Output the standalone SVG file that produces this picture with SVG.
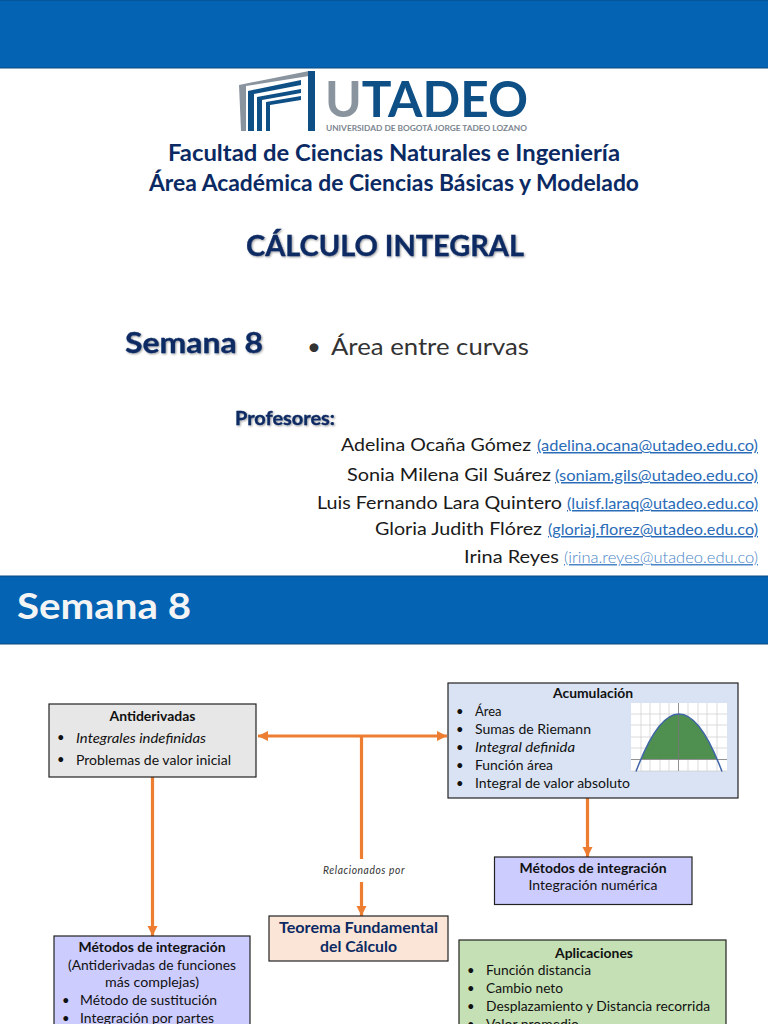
<svg xmlns="http://www.w3.org/2000/svg" width="768" height="1024" viewBox="0 0 768 1024">
<style>
text{font-family:Lato,"Open Sans","Liberation Sans",sans-serif;fill:#111}
.band{fill:#0563b4;stroke:#0b4a80;stroke-width:1}
.h1{font-size:22.5px;font-weight:700;fill:#0b2a63;text-anchor:middle}
.shadow{font-weight:700;fill:#0b2a63;stroke:#0b2a63;stroke-width:.3;filter:url(#soft)}
.name{font-size:18px;fill:#1a1a1a}
.mail{font-size:15px;fill:#2a6cb8;text-decoration:underline}
.box{stroke:#222;stroke-width:1.2}
.t{font-size:13px}
.b{font-size:13px;font-weight:700}
.c{text-anchor:middle}
.i{font-style:italic}
.con{fill:none;stroke:#ed7d31;stroke-width:3.2}
</style>
<defs>
<marker id="arr" markerUnits="userSpaceOnUse" markerWidth="12" markerHeight="12" refX="10" refY="5" orient="auto-start-reverse"><path d="M0 0L10 5L0 10Z" fill="#ed7d31"/></marker>
<filter id="soft" x="-5%" y="-20%" width="110%" height="140%"><feDropShadow dx="1" dy="1" stdDeviation="1" flood-color="#000" flood-opacity=".4"/></filter>
</defs>
<rect width="768" height="1024" fill="#fff"/>
<rect class="band" x="-1" y="0" width="770" height="68"/>
<g id="logo">
<path d="M239 85L309 71V76L246 86V131H241Z" fill="#8a949e"/>
<path d="M308 71H315V131H308Z" fill="#0e4f86"/>
<path d="M248 91L301 80V85L254 94V131H248Z" fill="#0e4f86"/>
<path d="M257 97L301 89V93L262 100V131H257Z" fill="#0e4f86"/>
<path d="M266 102L301 96V100L270 105V131H266Z" fill="#0e4f86"/>
<text x="325" y="117" font-size="49" font-weight="700" textLength="203" lengthAdjust="spacingAndGlyphs" style="fill:#0e4f86"><tspan style="fill:#8a949e">U</tspan>TADEO</text>
<text x="326" y="131" font-size="8" font-weight="700" textLength="201" lengthAdjust="spacingAndGlyphs" style="fill:#7b8590">UNIVERSIDAD DE BOGOTÁ JORGE TADEO LOZANO</text>
</g>
<text class="h1" x="394" y="161" textLength="452" lengthAdjust="spacingAndGlyphs">Facultad de Ciencias Naturales e Ingeniería</text>
<text class="h1" x="394" y="191" textLength="490" lengthAdjust="spacingAndGlyphs">Área Académica de Ciencias Básicas y Modelado</text>
<text class="shadow" x="246" y="256" font-size="28" textLength="278" lengthAdjust="spacingAndGlyphs">CÁLCULO INTEGRAL</text>
<text class="shadow" x="125" y="353" font-size="28" textLength="138" lengthAdjust="spacingAndGlyphs">Semana 8</text>
<text x="307" y="355" font-size="24" style="fill:#333">•</text>
<text x="331" y="355" font-size="24" style="fill:#333" textLength="198" lengthAdjust="spacingAndGlyphs">Área entre curvas</text>
<text class="shadow" x="235" y="425" font-size="18" textLength="100" lengthAdjust="spacingAndGlyphs">Profesores:</text>
<text class="name" x="341" y="451" textLength="190" lengthAdjust="spacingAndGlyphs">Adelina Ocaña Gómez</text>
<text class="mail" x="537" y="451" textLength="221" lengthAdjust="spacingAndGlyphs">(adelina.ocana@utadeo.edu.co)</text>
<text class="name" x="347" y="481" textLength="204" lengthAdjust="spacingAndGlyphs">Sonia Milena Gil Suárez</text>
<text class="mail" x="555" y="481" textLength="203" lengthAdjust="spacingAndGlyphs">(soniam.gils@utadeo.edu.co)</text>
<text class="name" x="317" y="509" textLength="245" lengthAdjust="spacingAndGlyphs">Luis Fernando Lara Quintero</text>
<text class="mail" x="567" y="509" textLength="191" lengthAdjust="spacingAndGlyphs">(luisf.laraq@utadeo.edu.co)</text>
<text class="name" x="375" y="535" textLength="167" lengthAdjust="spacingAndGlyphs">Gloria Judith Flórez</text>
<text class="mail" x="548" y="535" textLength="210" lengthAdjust="spacingAndGlyphs">(gloriaj.florez@utadeo.edu.co)</text>
<text class="name" x="464" y="563" textLength="95" lengthAdjust="spacingAndGlyphs">Irina Reyes</text>
<text class="mail" x="564" y="563" textLength="194" lengthAdjust="spacingAndGlyphs" style="font-weight:300;fill:#4a86c8">(irina.reyes@utadeo.edu.co)</text>
<rect class="band" x="-1" y="576" width="770" height="68"/>
<text x="17" y="619" font-size="36" font-weight="700" style="fill:#f4f4f4" textLength="174" lengthAdjust="spacingAndGlyphs">Semana 8</text>

<g id="connectors">
<path class="con" d="M258 736H447" marker-start="url(#arr)" marker-end="url(#arr)"/>
<path class="con" d="M361.5 736V859"/>
<path class="con" d="M361.5 882V916" marker-end="url(#arr)"/>
<path class="con" d="M152.5 777V936" marker-end="url(#arr)"/>
<path class="con" d="M587.5 798V857" marker-end="url(#arr)"/>
<text x="323" y="874" font-size="10.500" class="i" textLength="82" lengthAdjust="spacingAndGlyphs" style="fill:#333;letter-spacing:.6px">Relacionados por</text>
</g>

<g id="antiderivadas">
<rect class="box" x="49" y="704" width="207" height="73" fill="#e7e7e7"/>
<text class="b c" x="152.500" y="720.500" textLength="86" lengthAdjust="spacingAndGlyphs">Antiderivadas</text>
<text class="t" x="57" y="742">•</text>
<text class="t i" x="76" y="742.500" textLength="130" lengthAdjust="spacingAndGlyphs">Integrales indefinidas</text>
<text class="t" x="57" y="764">•</text>
<text class="t" x="76" y="764.500" textLength="155" lengthAdjust="spacingAndGlyphs">Problemas de valor inicial</text>
</g>

<g id="metodos-izq">
<rect class="box" x="54" y="936" width="196" height="100" fill="#ccccff"/>
<text class="b c" x="152" y="952" textLength="147" lengthAdjust="spacingAndGlyphs">Métodos de integración</text>
<text class="t c" x="152" y="970" textLength="168" lengthAdjust="spacingAndGlyphs">(Antiderivadas de funciones</text>
<text class="t c" x="152" y="987" textLength="94" lengthAdjust="spacingAndGlyphs">más complejas)</text>
<text class="t" x="62" y="1005">•</text>
<text class="t" x="80" y="1005" textLength="137" lengthAdjust="spacingAndGlyphs">Método de sustitución</text>
<text class="t" x="62" y="1023">•</text>
<text class="t" x="80" y="1023" textLength="134" lengthAdjust="spacingAndGlyphs">Integración por partes</text>
</g>

<g id="teorema">
<rect class="box" x="269" y="916" width="179" height="45" fill="#fbe5d6"/>
<text x="358.500" y="933" font-size="14.500" font-weight="700" text-anchor="middle" style="fill:#0b2a63" textLength="159" lengthAdjust="spacingAndGlyphs">Teorema Fundamental</text>
<text x="358.500" y="952" font-size="14.500" font-weight="700" text-anchor="middle" style="fill:#0b2a63" textLength="77" lengthAdjust="spacingAndGlyphs">del Cálculo</text>
</g>

<g id="acumulacion">
<rect class="box" x="448" y="683" width="290" height="115" fill="#dae3f3"/>
<text class="b c" x="593" y="698" textLength="80" lengthAdjust="spacingAndGlyphs">Acumulación</text>
<text class="t" x="456" y="716">•</text><text class="t" x="475" y="716">Área</text>
<text class="t" x="456" y="734">•</text><text class="t" x="475" y="734" textLength="116" lengthAdjust="spacingAndGlyphs">Sumas de Riemann</text>
<text class="t" x="456" y="752">•</text><text class="t i" x="475" y="752" textLength="100" lengthAdjust="spacingAndGlyphs">Integral definida</text>
<text class="t" x="456" y="770">•</text><text class="t" x="475" y="770" textLength="78" lengthAdjust="spacingAndGlyphs">Función área</text>
<text class="t" x="456" y="788">•</text><text class="t" x="475" y="788" textLength="155" lengthAdjust="spacingAndGlyphs">Integral de valor absoluto</text>
<rect x="631" y="703" width="96" height="68" fill="#fff"/>
<path d="M631 714H727M631 725H727M631 737H727M631 748H727M631 771H727M641 703V771M650 703V771M660 703V771M669 703V771M688 703V771M698 703V771M707 703V771M717 703V771" stroke="#ccc" stroke-width=".7" fill="none"/>
<path d="M641 759Q679 669 717 759Z" fill="#4f8f4f"/>
<path d="M631 759.500H727M678.500 703V771" stroke="#777" stroke-width=".8" fill="none"/>
<path d="M636 771.600Q679 656.400 722 771.600" stroke="#3f66a8" stroke-width="1.500" fill="none"/>
</g>

<g id="metodos-der">
<rect class="box" x="494.500" y="857" width="197.500" height="47.500" fill="#ccccff"/>
<text class="b c" x="593" y="873" textLength="147" lengthAdjust="spacingAndGlyphs">Métodos de integración</text>
<text class="t c" x="593" y="890" textLength="129" lengthAdjust="spacingAndGlyphs">Integración numérica</text>
</g>

<g id="aplicaciones">
<rect class="box" x="459" y="940" width="267" height="96" fill="#c5e0b4"/>
<text class="b c" x="594" y="958" textLength="78" lengthAdjust="spacingAndGlyphs">Aplicaciones</text>
<text class="t" x="467" y="975">•</text><text class="t" x="486" y="975" textLength="105" lengthAdjust="spacingAndGlyphs">Función distancia</text>
<text class="t" x="467" y="993">•</text><text class="t" x="486" y="993" textLength="77" lengthAdjust="spacingAndGlyphs">Cambio neto</text>
<text class="t" x="467" y="1011">•</text><text class="t" x="486" y="1011" textLength="224" lengthAdjust="spacingAndGlyphs">Desplazamiento y Distancia recorrida</text>
<text class="t" x="467" y="1029">•</text><text class="t" x="486" y="1029" textLength="93" lengthAdjust="spacingAndGlyphs">Valor promedio</text>
</g>
</svg>
